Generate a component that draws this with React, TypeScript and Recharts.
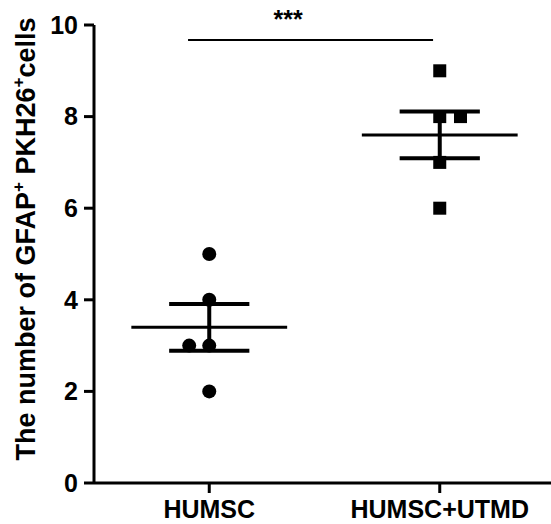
import React from "react";
import { ScatterChart, Scatter, XAxis, YAxis, ReferenceLine, ReferenceDot } from "recharts";

const groups = ["HUMSC", "HUMSC+UTMD"];
const humscValues = [5, 4, 3, 3, 2];
const utmdValues = [9, 8, 8, 7, 6];
// horizontal nudge of overlapping points (in x-axis units)
const humscJitter = [0, 0, -0.087, 0, 0];
const utmdJitter = [0, 0, 0.09, 0, 0];
const yTicks = [0, 2, 4, 6, 8, 10];
const significance = "***";
const bracketY = 9.67;

const FONT = "'Liberation Sans', Arial, Helvetica, sans-serif";

function stats(values: number[]) {
  const n = values.length;
  const mean = values.reduce((a, b) => a + b, 0) / n;
  const sd = Math.sqrt(values.reduce((a, b) => a + (b - mean) ** 2, 0) / (n - 1));
  return { mean, sem: sd / Math.sqrt(n) };
}

const humscData = humscValues.map((v, i) => ({ x: 0.5 + humscJitter[i], y: v }));
const utmdData = utmdValues.map((v, i) => ({ x: 1.5 + utmdJitter[i], y: v }));

const Circle = (p: any) => <circle cx={p.cx} cy={p.cy} r={7} fill="#000" />;
const Square = (p: any) => <rect x={p.cx - 6.5} y={p.cy - 6.5} width={13} height={13} fill="#000" />;

function meanSem(center: number, values: number[]) {
  const { mean, sem } = stats(values);
  const k = `g${center}`;
  return [
    <ReferenceLine key={k + "m"} segment={[{ x: center - 0.338, y: mean }, { x: center + 0.338, y: mean }]} stroke="#000" strokeWidth={3} />,
    <ReferenceLine key={k + "u"} segment={[{ x: center - 0.174, y: mean + sem }, { x: center + 0.174, y: mean + sem }]} stroke="#000" strokeWidth={4} />,
    <ReferenceLine key={k + "l"} segment={[{ x: center - 0.174, y: mean - sem }, { x: center + 0.174, y: mean - sem }]} stroke="#000" strokeWidth={4} />,
    <ReferenceLine key={k + "v"} segment={[{ x: center, y: mean - sem }, { x: center, y: mean + sem }]} stroke="#000" strokeWidth={4} />,
  ];
}

const YLabel = () => (
  <text x={35} y={239} transform="rotate(-90, 35, 239)" textAnchor="middle" fontFamily={FONT} fontWeight="bold" fontSize={27} fill="#000">
    <tspan>The number of GFAP</tspan>
    <tspan dy={-11} fontSize={17}>+</tspan>
    <tspan dy={11}> PKH26</tspan>
    <tspan dy={-11} fontSize={17}>+</tspan>
    <tspan dy={11}>cells</tspan>
  </text>
);

export default function App() {
  const tick = { fill: "#000", fontSize: 25, fontWeight: "bold", fontFamily: FONT };
  const line = { stroke: "#000", strokeWidth: 3 };
  return (
    <div style={{ position: "absolute", left: 0, top: 0, width: 551, height: 524, overflow: "hidden", background: "#fff" }}>
      <ScatterChart width={555} height={524} margin={{ top: 25, right: 0, bottom: 0, left: 0 }}>
        <XAxis
          type="number"
          dataKey="x"
          domain={[0, 2]}
          ticks={[0.5, 1.5]}
          tickFormatter={(v: number) => groups[Math.round(v - 0.5)]}
          height={41}
          tickSize={10}
          tickMargin={7}
          tick={tick}
          axisLine={line}
          tickLine={line}
          allowDataOverflow
        />
        <YAxis
          type="number"
          dataKey="y"
          domain={[0, 10]}
          ticks={yTicks}
          width={94}
          tickSize={10}
          tickMargin={6}
          tick={tick}
          axisLine={line}
          tickLine={line}
          label={{ content: () => <YLabel /> }}
        />
        <Scatter data={humscData} shape={Circle} isAnimationActive={false} />
        <Scatter data={utmdData} shape={Square} isAnimationActive={false} />
        {meanSem(0.5, humscValues)}
        {meanSem(1.5, utmdValues)}
        <ReferenceLine segment={[{ x: 0.408, y: bracketY }, { x: 1.471, y: bracketY }]} stroke="#000" strokeWidth={2} />
        <ReferenceDot
          x={0.842}
          y={10}
          r={0}
          ifOverflow="visible"
          shape={(p: any) => (
            <text x={p.cx} y={p.cy + 3} textAnchor="middle" fontFamily={FONT} fontWeight="bold" fontSize={25} fill="#000">
              {significance}
            </text>
          )}
        />
      </ScatterChart>
    </div>
  );
}
